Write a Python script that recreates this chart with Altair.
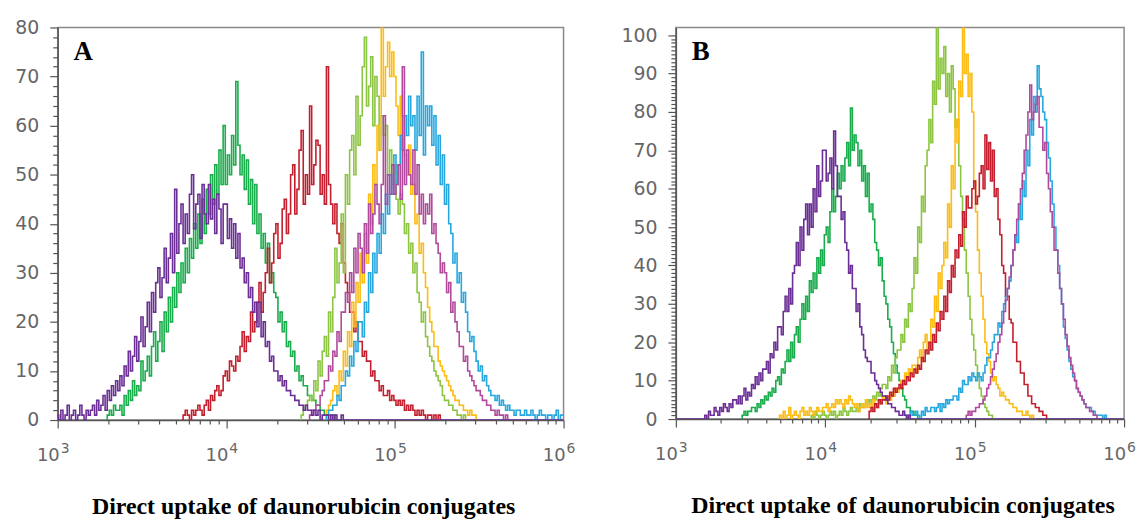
import altair as alt
import pandas as pd

STEP = 0.0125  # histogram bin width in decades (log10 units)

# ---------------- Panel A (counts, per bin) ----------------
A_purple_start = 3.0
A_purple = [1,0,2,0,1,3,0,1, 2,0,1,3,1,0,2,1, 2,3,1,4,2,3,5,2, 6,4,7,5,8,6,9,7,
            11,9,14,10,13,17,12,16, 21,15,19,24,18,26,22,28, 31,25,29,35,28,33,38,30,
            47,34,40,44,36,42,38,46, 50,39,44,46,37,48,42,40, 48,41,45,38,46,43,36,44,
            44,37,41,35,40,33,38,31, 33,28,30,25,27,22,24,19, 24,17,20,15,16,12,13,10,
            10,8,9,7,8,6,6,5, 5,4,4,3,3,2,3,2, 2,1,2,1,2,0,1,1, 1,0,1,0,1,0,0,1]
A_green_start = 3.3
A_green = [1,2,1,3,2,2,3,1, 5,3,6,4,8,5,7,6, 12,8,10,13,9,15,18,12, 16,20,14,22,18,25,20,27,
           23,30,26,32,28,35,30,37, 33,40,35,42,36,45,38,47, 42,50,44,52,46,55,48,60,
           48,54,50,58,52,69,56,50, 54,47,53,44,49,40,48,38, 42,35,38,32,36,28,30,26,
           25,20,22,18,20,15,16,13, 14,10,11,8,9,7,7,5, 5,4,4,3,3,2,2,1, 1,1,0,1,0,0]
A_red_start = 3.75
A_red = [1,2,1,0,2,1,2,3, 2,1,3,4,2,5,4,6, 7,5,6,9,10,8,12,11, 10,13,12,15,18,14,17,16,
         22,18,20,24,28,22,26,30, 35,28,32,38,40,33,36,43, 45,38,42,50,52,42,47,55,
         59,44,50,46,64,48,52,57, 56,46,50,44,72,48,44,40, 44,38,36,40,32,28,26,22,
         22,18,20,16,16,13,14,12, 12,9,10,8,8,6,7,5, 5,6,4,5,4,3,4,3, 4,2,3,2,3,2,1,2,
         1,2,1,0,1,1,0,1, 0,1,0]
A_lgreen_start = 4.45
A_lgreen = [1,2,3,4,5,4,8,6, 12,9,14,17,13,22,18,25, 35,28,32,42,30,50,44,55,
            58,50,66,56,62,72,78,64, 68,74,60,70,66,55,62,58, 60,50,55,48,52,45,42,46,
            44,38,40,34,36,30,32,26, 24,20,22,17,15,13,12,10, 9,8,7,5,4,4,3,3, 2,2,1,1,0,1,0]
A_yellow_start = 4.6
A_yellow = [2,3,4,6,7,5,10,8, 14,11,18,15,24,19,28,24, 34,28,38,32,46,40,52,48,
            60,55,80,66,72,77,70,75, 70,64,58,66,62,54,50,56, 46,48,40,42,34,36,30,27,
            23,20,18,15,15,12,11,10, 9,8,7,6,5,4,4,3, 3,2,2,1,2,1,1,0]
A_magenta_start = 4.5
A_magenta = [1,2,2,3,3,5,6,8, 8,11,10,14,13,18,16,22, 22,26,24,30,26,35,30,38,
             35,30,40,34,44,38,42,48, 44,40,48,62,44,50,46,52, 46,48,52,45,72,48,55,50,
             48,55,46,52,42,46,40,44, 42,46,38,40,36,34,30,32, 30,26,28,22,24,20,18,15,
             15,12,13,10,9,8,7,6, 6,5,4,4,3,3,2,2, 1,2,1,1,0,1,0]
A_blue_start = 4.6
A_blue = [1,2,2,3,3,5,4,7, 7,10,9,13,11,16,14,20, 20,17,24,22,30,26,34,30,
          38,34,42,38,46,42,50,46, 54,48,52,58,55,62,58,66, 60,62,55,66,58,75,54,64,
          60,64,56,62,52,58,48,54, 44,48,40,38,32,34,28,30, 24,26,22,18,16,17,14,12,
          10,11,8,9,7,6,5,5, 4,5,3,4,3,2,3,2, 2,1,2,2,1,1,2,1, 1,2,1,0,1,2,1,1,
          0,1,1,0,1,2,0,1, 1]

# ---------------- Panel B ----------------
B_purple_start = 3.2
B_purple = [1,0,2,1,1,3,2,1, 3,2,4,3,2,4,3,5, 5,4,6,4,6,8,5,7, 6,9,8,11,9,12,10,13,
            13,15,12,17,16,20,18,24, 24,22,28,32,28,34,30,38, 40,46,40,50,44,52,56,48,
            56,50,60,54,66,58,62,70, 70,62,64,68,60,75,66,58, 58,52,54,46,44,38,40,34,
            34,28,30,24,22,18,16,15, 15,12,12,10,9,8,7,6, 6,5,4,4,3,3,2,2, 1,1,2,1,0,1,0,0]
B_green_start = 3.45
B_green = [1,2,1,2,2,3,3,2, 4,3,5,4,6,5,7,6, 8,7,10,11,9,13,12,15, 18,15,20,16,22,24,20,26,
           30,26,32,28,36,33,38,34, 42,38,44,40,48,50,46,54, 60,54,58,64,60,66,62,68,
           72,66,81,70,74,72,66,70, 62,66,58,64,54,56,52,46, 44,40,42,36,32,30,26,24,
           20,17,14,12,10,8,6,5, 3,3,2,2,1,1,0]
B_lgreen_start = 3.9
B_lgreen = [0,1,0,2,1,0,1,2, 1,0,1,2,1,2,0,1, 2,1,3,2,1,2,3,2, 2,3,2,4,3,3,4,5,
            4,5,6,5,7,6,8,9, 9,8,11,10,14,12,16,18, 18,22,20,26,24,30,28,34,
            42,38,50,46,58,54,66,70, 78,72,88,82,102,86,94,90, 97,84,90,80,92,86,76,78,
            66,58,52,44,38,32,26,22, 18,14,11,8,6,4,3,2, 1,1,0]
B_yellow_start = 3.7
B_yellow = [1,0,2,0,1,3,0,1, 2,1,0,2,3,1,2,1, 3,2,1,2,3,2,2,3, 3,4,2,3,4,3,5,4,
            5,4,3,5,4,6,5,4, 3,4,2,3,4,3,5,3, 4,3,5,4,3,5,4,6, 5,4,6,5,7,6,8,7,
            8,10,9,12,11,13,12,14, 14,12,16,18,15,20,22,18, 20,26,24,32,28,38,34,40,
            46,42,56,50,66,60,78,72, 88,84,103,90,95,84,90,80, 62,54,44,38,32,26,20,17,
            15,12,10,11,9,8,6,7, 6,5,5,4,4,3,3,2, 2,2,1,1,2,1,0,1, 0]
B_red_start = 4.3
B_red = [2,3,2,4,3,5,4,5, 5,6,5,7,6,8,7,8, 9,8,10,9,11,10,12,11, 13,12,14,13,16,15,18,17,
         20,18,22,20,25,23,28,26, 32,28,36,33,40,37,44,42, 48,45,54,50,58,55,55,60,
         62,56,58,64,66,60,74,65, 72,62,70,58,60,52,48,40, 38,32,32,26,25,20,20,15,
         15,12,12,9,9,6,6,4, 4,3,3,2,2,1,1,0]
B_blue_start = 4.55
B_blue = [1,0,2,1,1,2,1,0, 2,1,3,2,2,3,3,2, 3,4,2,4,3,5,4,5, 5,6,6,5,8,7,10,9,
          9,11,10,12,11,10,12,11, 10,12,14,16,16,18,20,22, 22,25,24,28,30,32,34,36,
          40,44,48,46,56,52,62,58, 70,66,78,74,84,80,92,86, 84,80,78,72,68,62,56,50,
          44,40,34,30,24,21,18,15, 13,11,10,8,7,6,5,4, 3,3,3,2,2,1,1,1, 1,0,1,0]
B_magenta_start = 4.95
B_magenta = [1,2,1,2,2,3,3,4, 4,5,6,8,9,11,13,15, 17,20,22,25,28,31,34,37,
             40,44,48,52,56,60,64,70, 74,80,87,78,80,82,84,76, 76,70,72,64,60,54,50,44,
             44,38,34,30,26,22,19,16, 14,12,10,8,7,6,5,4, 3,3,2,2,1,1,0]

COLORS = {
    "purple": "#6b2f95",
    "green": "#19ad4b",
    "red": "#c41f2e",
    "lightgreen": "#8cc541",
    "yellow": "#fbbc14",
    "magenta": "#b14a9c",
    "blue": "#26a8df",
}

# drawing order (last on top); purple also runs along the baseline
A_SERIES = [("green", A_green_start, A_green), ("red", A_red_start, A_red),
            ("lightgreen", A_lgreen_start, A_lgreen), ("yellow", A_yellow_start, A_yellow),
            ("blue", A_blue_start, A_blue), ("magenta", A_magenta_start, A_magenta),
            ("purple", A_purple_start, A_purple)]
B_SERIES = [("green", B_green_start, B_green), ("lightgreen", B_lgreen_start, B_lgreen),
            ("yellow", B_yellow_start, B_yellow), ("red", B_red_start, B_red),
            ("blue", B_blue_start, B_blue), ("magenta", B_magenta_start, B_magenta),
            ("purple", B_purple_start, B_purple)]

X_LABELS = [1000, 10000, 100000, 1000000]
X_EXPS = ["3", "4", "5", "6"]
TITLE = "Direct uptake of daunorubicin conjugates"

X_TICKS = [k * 10 ** e for e in range(3, 6) for k in range(1, 10)] + [1000000]
MAJOR_TEST = "datum.value == 1000 || datum.value == 10000 || datum.value == 100000 || datum.value == 1000000"


def build_df(prefix, series):
    rows = []
    keys, cols = [], []
    for i, (name, start, vals) in enumerate(series):
        key = f"{prefix}{i}_{name}"
        keys.append(key)
        cols.append(COLORS[name])
        if name == "purple":
            rows.append({"key": key, "x": 1000.0, "y": 0, "o": -2})
        rows.append({"key": key, "x": 10 ** (start - STEP), "y": 0, "o": -1})
        for j, v in enumerate(vals):
            rows.append({"key": key, "x": 10 ** (start + STEP * j), "y": v, "o": j})
        rows.append({"key": key, "x": 10 ** (start + STEP * len(vals)), "y": 0, "o": len(vals)})
        if name == "purple":
            rows.append({"key": key, "x": 1000000.0, "y": 0, "o": len(vals) + 1})
    return pd.DataFrame(rows), keys, cols


def panel(prefix, series, ymax, ystep, W, H, letter, title_dx):
    df, keys, cols = build_df(prefix, series)
    xscale = alt.Scale(type="log", domain=[1000, 1000000], nice=False)
    yvals = list(range(0, int(ymax // 10 * 10) + 1, ystep))
    lines = alt.Chart(df).mark_line(interpolate="step", strokeWidth=1.6, clip=True).encode(
        x=alt.X("x:Q", scale=xscale, title=None,
                axis=alt.Axis(values=X_TICKS, labels=False, grid=False,
                              tickSize={"condition": {"test": MAJOR_TEST, "value": 8}, "value": 4},
                              tickColor="#555555", tickWidth=1.2,
                              domainColor="#555555", domainWidth=1.5)),
        y=alt.Y("y:Q", scale=alt.Scale(domain=[0, ymax], nice=False), title=None,
                axis=alt.Axis(values=yvals, grid=False,
                              labelExpr="datum.value % 10 == 0 ? datum.label : ''",
                              tickSize={"condition": {"test": "datum.value % 10 == 0", "value": 8}, "value": 5},
                              tickColor="#555555", tickWidth=1.2,
                              domainColor="#555555", domainWidth=1.5,
                              labelFont="DejaVu Sans", labelFontSize=19, labelColor="#666666",
                              labelPadding=11)),
        color=alt.Color("key:N", scale=alt.Scale(domain=keys, range=cols), legend=None),
        order=alt.Order("o:Q"),
    )
    lab = pd.DataFrame({"x": X_LABELS, "base": ["10"] * 4, "exp": X_EXPS})
    base = alt.Chart(lab).mark_text(align="right", baseline="alphabetic", dx=2, fontSize=18,
                                    font="DejaVu Sans", color="#666666").encode(
        x=alt.X("x:Q", scale=xscale), y=alt.value(H + 41), text="base:N")
    exp = alt.Chart(lab).mark_text(align="left", baseline="alphabetic", dx=3, fontSize=14,
                                   font="DejaVu Sans", color="#666666").encode(
        x=alt.X("x:Q", scale=xscale), y=alt.value(H + 33), text="exp:N")
    ttl = alt.Chart(pd.DataFrame({"t": [TITLE]})).mark_text(
        align="center", baseline="alphabetic", font="Liberation Serif", fontWeight="bold",
        fontSize=24, color="black", dx=title_dx).encode(
        x=alt.value(W / 2), y=alt.value(H + 95), text="t:N")
    let = alt.Chart(pd.DataFrame({"t": [letter]})).mark_text(
        align="left", baseline="alphabetic", font="Liberation Serif", fontWeight="bold",
        fontSize=27, color="black").encode(x=alt.value(16), y=alt.value(33), text="t:N")
    return alt.layer(lines, base, exp, ttl, let).properties(width=W, height=H)


pA = panel("A", A_SERIES, 80, 2, 509, 395, "A", -7)
pB = panel("B", B_SERIES, 102, 1, 451, 394, "B", 3)

chart = alt.hconcat(pA, pB, spacing=113, bounds="flush").resolve_scale(
    color="independent"
).properties(
    padding={"left": 6, "top": 8, "right": 0, "bottom": 0}
).configure_view(stroke="#8a8a8a", strokeWidth=1.5)

chart.save("out.html", embed_options={"renderer": "svg", "actions": False})
